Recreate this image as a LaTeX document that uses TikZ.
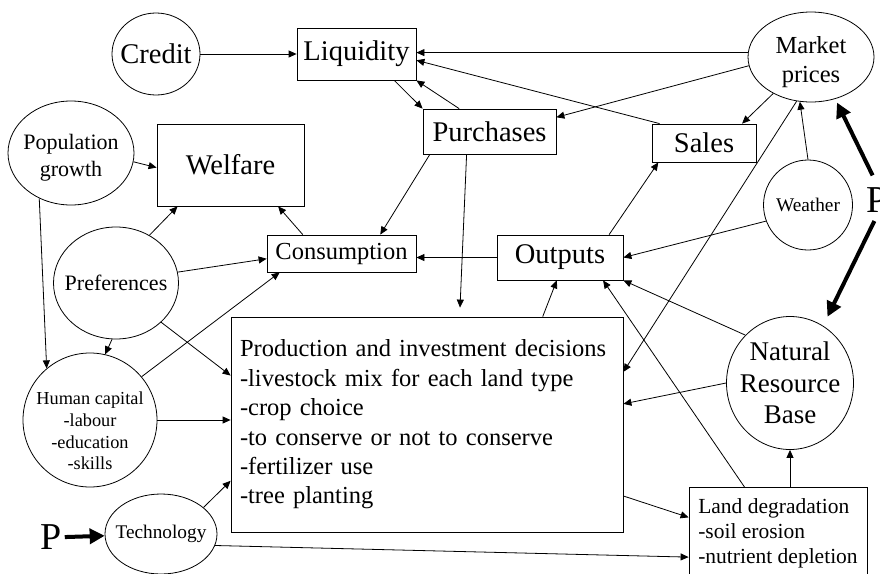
\documentclass[tikz,border=0pt]{standalone}
\usepackage{fontspec}
\setmainfont{Liberation Serif}
\usetikzlibrary{shapes.geometric,arrows.meta}
\newcommand{\setfs}[2]{\fontsize{#1}{#2}\selectfont}
\tikzset{
    box/.style={draw, rectangle, inner sep=0pt, line width=0.8pt},
    ell/.style={draw, ellipse, inner sep=-8pt, align=center, line width=0.8pt},
    arr/.style={-{Triangle[length=8pt,width=7pt]}, line width=0.8pt},
    bigarr/.style={-{Triangle[length=15pt,width=15pt]}, line width=4pt},
}
\begin{document}
\begin{tikzpicture}[x=1pt,y=-1pt]
    \useasboundingbox (0,0) rectangle (880,573);
    \clip (0,0) rectangle (880,573);
    \node[ell, minimum width=88pt, minimum height=82pt, font=\setfs{28.5}{34}] (credit) at (156,54) {Credit};
    \node[box, minimum width=119pt, minimum height=52pt, font=\setfs{28.5}{34}] (liq) at (356.5,54) {Liquidity};
    \node[ell, minimum width=126pt, minimum height=104pt, text height=52pt, font=\setfs{22}{27}] (pop) at (71,153) {Population\\growth};
    \node[box, minimum width=147pt, minimum height=82pt, font=\setfs{28.5}{34}] (wel) at (230.5,165) {Welfare};
    \node[box, minimum width=133pt, minimum height=45pt, font=\setfs{28.5}{34}] (pur) at (489.5,131.5) {Purchases};
    \node[ell, minimum width=126pt, minimum height=90pt, text height=56pt, font=\setfs{24.5}{29}] (mkt) at (811,57) {Market\\prices};
    \node[box, minimum width=104pt, minimum height=38pt, font=\setfs{28.5}{34}] (sales) at (704,143) {Sales};
    \node[ell, minimum width=89pt, minimum height=90pt, font=\setfs{19.3}{23}] (wea) at (808,205) {Weather};
    \node[ell, minimum width=125pt, minimum height=112pt, font=\setfs{22}{27}] (pref) at (116,283) {Preferences};
    \node[box, minimum width=149pt, minimum height=37pt, font=\setfs{24.5}{29}] (cons) at (341.5,253.5) {Consumption};
    \node[box, minimum width=126pt, minimum height=45pt, font=\setfs{28.5}{34}] (out) at (560,257.5) {Outputs};
    \node[box, inner sep=9pt, text width=374pt, minimum height=215pt, align=left, font=\setfs{24.5}{29.4}] (prod) at (427,424.5) {Production and investment decisions\\-livestock mix for each land type\\-crop choice\\-to conserve or not to conserve\\-fertilizer use\\-tree planting};
    \node[ell, minimum width=127pt, minimum height=133pt, font=\setfs{27}{31.5}] (nrb) at (790,383) {Natural\\Resource\\Base};
    \node[ell, minimum width=134pt, minimum height=134pt, text height=100pt, font=\setfs{18.3}{21.7}] (hum) at (90,420) {Human capital\\-labour\\-education\\-skills};
    \node[ell, minimum width=112pt, minimum height=80pt, font=\setfs{19.3}{23}] (tech) at (161,534) {Technology};
    \node[box, anchor=north, inner xsep=9pt, inner ysep=11pt, minimum width=178pt, align=left, font=\setfs{21.5}{25}] (land) at (778,487) {Land degradation\\-soil erosion\\-nutrient depletion};
    \node[inner sep=3pt, font=\setfs{38}{40}] (pl) at (51,537.5) {P};
    \node[inner sep=3pt, font=\setfs{38}{40}] (pr) at (877,200) {P};
    \draw[arr] (credit) -- (liq);
    \draw[arr] (mkt.176) -- (mkt.176 -| liq.east);
    \draw[arr] ([xshift=8pt]sales.north west) -- (liq.-6);
    \draw[arr] (pur.143) -- (liq.south east);
    \draw[arr] (liq.-35.5) -- (pur.north west);
    \draw[arr] (mkt.188) -- (pur.12);
    \draw[arr] (mkt.224) -- (sales.27);
    \draw[arr] (wea.north) -- (mkt.256);
    \draw[arr] (mkt.252) -- (prod.15);
    \draw[arr] (out.25) -- (sales.203);
    \draw[arr] (pur.201) -- (cons.26);
    \draw[arr] (pur.225) -- ([xshift=33pt,yshift=9pt]prod.north);
    \draw[arr] (cons.154) -- (wel.-41);
    \draw[arr] (pref.55) -- (wel.218);
    \draw[arr] (pref.10) -- (cons.184);
    \draw[arr] (pref.266) -- (hum.77);
    \draw[arr] (pref.-41) -- (prod.166);
    \draw[arr] (hum.40) -- (cons.197);
    \draw[arr] (pop.-8) -- (wel.182);
    \draw[arr] (pop.235) -- (hum.130);
    \draw[arr] (hum.east) -- (hum.east -| prod.west);
    \draw[arr] (tech.32) -- (prod.196);
    \draw[arr] (tech.-12) -- (land.195);
    \draw[arr] (prod.-20) -- (land.170);
    \draw[arr] (nrb.south |- land.north) -- (nrb.south);
    \draw[arr] (land.126) -- (out.-28);
    \draw[arr] (nrb.133) -- (out.south east);
    \draw[arr] (nrb.west) -- (prod.6);
    \draw[arr] (wea.201) -- (out.east);
    \draw[arr] (out.west) -- (out.west -| cons.east);
    \draw[arr] (prod.43) -- (out.262);
    \draw[bigarr] (pl) -- (tech);
    \draw[bigarr, shorten <=10pt, shorten >=4pt] (pr.north) -- (mkt.-60);
    \draw[bigarr, shorten <=6pt, shorten >=10pt] (pr.south) -- (nrb.60);
\end{tikzpicture}
\end{document}
